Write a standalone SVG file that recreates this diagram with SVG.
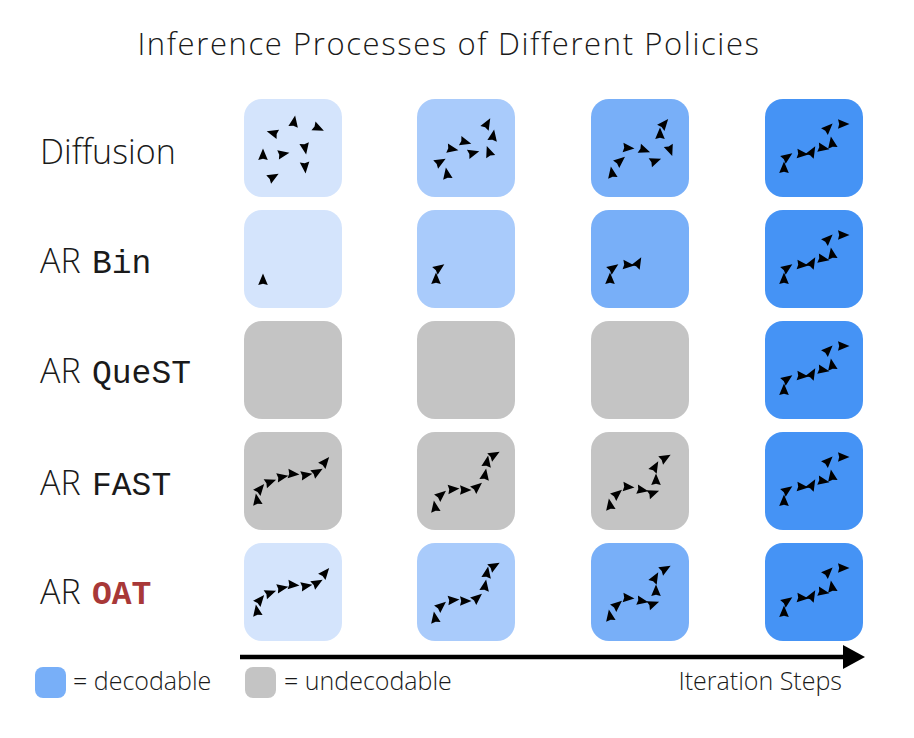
<svg xmlns="http://www.w3.org/2000/svg" xmlns:xlink="http://www.w3.org/1999/xlink" width="914" height="738" viewBox="0 0 914 738">
<style>
.c1{fill:#D4E4FC}.c2{fill:#A9CBFB}.c3{fill:#78AFF8}.c4{fill:#4593F5}.g{fill:#C4C4C4}
.sans{font-family:"Open Sans","Liberation Sans",sans-serif;font-weight:300;fill:#1a1a1a}
.lab{font-size:34px}
.mono{font-family:"Liberation Mono",monospace;font-size:33px;font-weight:300;fill:#1a1a1a}
.leg{font-size:25px}
.ah{fill:#000}
</style>
<defs>
<path id="ah" class="ah" d="M6.5,0 L-5,-4.8 L-3.8,0 L-5,4.8 Z"/>
<rect id="tile" width="98" height="98" rx="18"/>
<g id="fin">
<use xlink:href="#ah" transform="translate(19,69) rotate(-90)"/>
<use xlink:href="#ah" transform="translate(22,58) rotate(-35)"/>
<use xlink:href="#ah" transform="translate(37,55) rotate(5)"/>
<use xlink:href="#ah" transform="translate(47,53) rotate(-60)"/>
<use xlink:href="#ah" transform="translate(58,49) rotate(10)"/>
<use xlink:href="#ah" transform="translate(67,44) rotate(-100)"/>
<use xlink:href="#ah" transform="translate(63,29) rotate(-45)"/>
<use xlink:href="#ah" transform="translate(78,25) rotate(0)"/>
</g>
<g id="f1">
<use xlink:href="#ah" transform="translate(13,68) rotate(-100)"/>
<use xlink:href="#ah" transform="translate(16,57) rotate(-50)"/>
<use xlink:href="#ah" transform="translate(26,50) rotate(-20)"/>
<use xlink:href="#ah" transform="translate(38,45) rotate(-10)"/>
<use xlink:href="#ah" transform="translate(49,42) rotate(5)"/>
<use xlink:href="#ah" transform="translate(62,43) rotate(-10)"/>
<use xlink:href="#ah" transform="translate(73,40) rotate(-30)"/>
<use xlink:href="#ah" transform="translate(81,30) rotate(-50)"/>
</g>
<g id="f2">
<use xlink:href="#ah" transform="translate(18,75) rotate(-100)"/>
<use xlink:href="#ah" transform="translate(24,63) rotate(-40)"/>
<use xlink:href="#ah" transform="translate(36,57) rotate(-5)"/>
<use xlink:href="#ah" transform="translate(48,58) rotate(0)"/>
<use xlink:href="#ah" transform="translate(60,55) rotate(-40)"/>
<use xlink:href="#ah" transform="translate(68,43) rotate(-80)"/>
<use xlink:href="#ah" transform="translate(70,30) rotate(-80)"/>
<use xlink:href="#ah" transform="translate(77,23) rotate(-30)"/>
</g>
<g id="f3">
<use xlink:href="#ah" transform="translate(19,73) rotate(-100)"/>
<use xlink:href="#ah" transform="translate(26,62) rotate(-40)"/>
<use xlink:href="#ah" transform="translate(37,55) rotate(5)"/>
<use xlink:href="#ah" transform="translate(51,58) rotate(10)"/>
<use xlink:href="#ah" transform="translate(62,61) rotate(-20)"/>
<use xlink:href="#ah" transform="translate(65,48) rotate(-90)"/>
<use xlink:href="#ah" transform="translate(64,35) rotate(-60)"/>
<use xlink:href="#ah" transform="translate(74,26) rotate(-30)"/>
</g>
</defs>

<text class="sans" x="449" y="55" text-anchor="middle" style="font-size:31px;letter-spacing:1.6px">Inference Processes of Different Policies</text>

<g id="labels">
<text class="sans lab" x="40" y="164">Diffusion</text>
<text class="sans lab" x="40" y="273">AR</text><text class="mono" x="92" y="273">Bin</text>
<text class="sans lab" x="40" y="383">AR</text><text class="mono" x="92" y="383">QueST</text>
<text class="sans lab" x="40" y="495">AR</text><text class="mono" x="92" y="495">FAST</text>
<text class="sans lab" x="40" y="604">AR</text><text class="mono" x="92" y="604" style="font-weight:bold;fill:#A83838">OAT</text>
</g>

<!-- Diffusion row -->
<g id="diff1" transform="translate(244,99)"><use xlink:href="#tile" class="c1"/>
<use xlink:href="#ah" transform="translate(19,56) rotate(-90)"/>
<use xlink:href="#ah" transform="translate(29,78) rotate(-30)"/>
<use xlink:href="#ah" transform="translate(39,55) rotate(-10)"/>
<use xlink:href="#ah" transform="translate(29,34) rotate(-165)"/>
<use xlink:href="#ah" transform="translate(50,23) rotate(-80)"/>
<use xlink:href="#ah" transform="translate(74,29) rotate(25)"/>
<use xlink:href="#ah" transform="translate(61,49) rotate(80)"/>
<use xlink:href="#ah" transform="translate(61,68) rotate(85)"/>
</g>
<g id="diff2" transform="translate(417,99)"><use xlink:href="#tile" class="c2"/>
<use xlink:href="#ah" transform="translate(30,75) rotate(-100)"/>
<use xlink:href="#ah" transform="translate(23,63) rotate(-30)"/>
<use xlink:href="#ah" transform="translate(35,50) rotate(10)"/>
<use xlink:href="#ah" transform="translate(48,43) rotate(15)"/>
<use xlink:href="#ah" transform="translate(56,54) rotate(-15)"/>
<use xlink:href="#ah" transform="translate(72,53) rotate(-110)"/>
<use xlink:href="#ah" transform="translate(76,37) rotate(-80)"/>
<use xlink:href="#ah" transform="translate(70,25) rotate(-60)"/>
</g>
<g id="diff3" transform="translate(591,99)"><use xlink:href="#tile" class="c3"/>
<use xlink:href="#ah" transform="translate(21,74) rotate(-100)"/>
<use xlink:href="#ah" transform="translate(29,62) rotate(-40)"/>
<use xlink:href="#ah" transform="translate(37,49) rotate(5)"/>
<use xlink:href="#ah" transform="translate(53,51) rotate(20)"/>
<use xlink:href="#ah" transform="translate(64,62) rotate(-20)"/>
<use xlink:href="#ah" transform="translate(79,51) rotate(70)"/>
<use xlink:href="#ah" transform="translate(69,35) rotate(-90)"/>
<use xlink:href="#ah" transform="translate(73,25) rotate(-50)"/>
</g>
<g id="diff4" transform="translate(765,99)"><use xlink:href="#tile" class="c4"/><use xlink:href="#fin"/></g>

<!-- AR Bin row -->
<g id="bin1" transform="translate(244,210)"><use xlink:href="#tile" class="c1"/>
<use xlink:href="#ah" transform="translate(19,70) rotate(-90)"/>
</g>
<g id="bin2" transform="translate(417,210)"><use xlink:href="#tile" class="c2"/>
<use xlink:href="#ah" transform="translate(19,69) rotate(-90)"/>
<use xlink:href="#ah" transform="translate(22,58) rotate(-35)"/>
</g>
<g id="bin3" transform="translate(591,210)"><use xlink:href="#tile" class="c3"/>
<use xlink:href="#ah" transform="translate(19,69) rotate(-90)"/>
<use xlink:href="#ah" transform="translate(22,58) rotate(-35)"/>
<use xlink:href="#ah" transform="translate(37,55) rotate(5)"/>
<use xlink:href="#ah" transform="translate(47,53) rotate(-60)"/>
</g>
<g id="bin4" transform="translate(765,210)"><use xlink:href="#tile" class="c4"/><use xlink:href="#fin"/></g>

<!-- AR QueST row -->
<g id="quest1" transform="translate(244,321)"><use xlink:href="#tile" class="g"/></g>
<g id="quest2" transform="translate(417,321)"><use xlink:href="#tile" class="g"/></g>
<g id="quest3" transform="translate(591,321)"><use xlink:href="#tile" class="g"/></g>
<g id="quest4" transform="translate(765,321)"><use xlink:href="#tile" class="c4"/><use xlink:href="#fin"/></g>

<!-- AR FAST row -->
<g id="fast1" transform="translate(244,432)"><use xlink:href="#tile" class="g"/><use xlink:href="#f1"/></g>
<g id="fast2" transform="translate(417,432)"><use xlink:href="#tile" class="g"/><use xlink:href="#f2"/></g>
<g id="fast3" transform="translate(591,432)"><use xlink:href="#tile" class="g"/><use xlink:href="#f3"/></g>
<g id="fast4" transform="translate(765,432)"><use xlink:href="#tile" class="c4"/><use xlink:href="#fin"/></g>

<!-- AR OAT row -->
<g id="oat1" transform="translate(244,543)"><use xlink:href="#tile" class="c1"/><use xlink:href="#f1"/></g>
<g id="oat2" transform="translate(417,543)"><use xlink:href="#tile" class="c2"/><use xlink:href="#f2"/></g>
<g id="oat3" transform="translate(591,543)"><use xlink:href="#tile" class="c3"/><use xlink:href="#f3"/></g>
<g id="oat4" transform="translate(765,543)"><use xlink:href="#tile" class="c4"/><use xlink:href="#fin"/></g>

<g id="connectors">
<line x1="240" y1="657" x2="846" y2="657" stroke="#000" stroke-width="4.5"/>
<polygon points="843,645 865,657 843,669" fill="#000"/>
</g>

<g id="legend">
<rect x="35" y="667" width="31" height="31" rx="8" class="c3"/>
<text class="sans leg" x="73" y="690">= decodable</text>
<rect x="245" y="667" width="31" height="31" rx="8" class="g"/>
<text class="sans leg" x="284" y="690">= undecodable</text>
<text class="sans leg" x="842" y="690" text-anchor="end">Iteration Steps</text>
</g>
</svg>
